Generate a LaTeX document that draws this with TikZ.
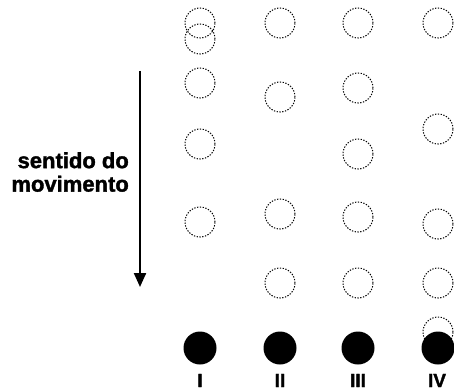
\documentclass[tikz,border=0pt]{standalone}
\usepackage{fontspec}
\setmainfont{Liberation Sans}
\newfontfamily\heavysans[FakeBold=1.6]{Liberation Sans Bold}
\usetikzlibrary{arrows.meta}
\begin{document}
\begin{tikzpicture}[x=1pt,y=-1pt,
  ghost/.style={circle,draw=black,line width=1pt,dash pattern=on 1.3pt off 1.5pt,minimum size=30pt,inner sep=0pt},
  ball/.style={circle,fill=black,minimum size=33pt,inner sep=0pt},
  numlabel/.style={font=\heavysans\fontsize{19}{19}\selectfont,inner sep=0pt,anchor=base},
  movetext/.style={font=\heavysans\fontsize{22}{23.5}\selectfont,align=right,inner sep=0pt}]
\useasboundingbox (0,0) rectangle (454,390);
% column I
\node[ghost] (a1) at (200,23) {};
\node[ghost] (a2) at (200,39) {};
\node[ghost] (a3) at (200,83) {};
\node[ghost] (a4) at (200,144) {};
\node[ghost] (a5) at (200,222) {};
% column II
\node[ghost] (b1) at (280,23) {};
\node[ghost] (b2) at (280,97) {};
\node[ghost] (b3) at (280,214) {};
\node[ghost] (b4) at (280,283) {};
% column III
\node[ghost] (c1) at (358,23) {};
\node[ghost] (c2) at (358,88) {};
\node[ghost] (c3) at (358,154) {};
\node[ghost] (c4) at (358,217) {};
\node[ghost] (c5) at (358,283) {};
% column IV
\node[ghost] (d1) at (438,23) {};
\node[ghost] (d2) at (438,129) {};
\node[ghost] (d3) at (438,224) {};
\node[ghost] (d4) at (438,283) {};
\node[ghost] (d5) at (438,332) {};
% balls
\node[ball] (A) at (200,348) {};
\node[ball] (B) at (280,348) {};
\node[ball] (C) at (358,348) {};
\node[ball] (D) at (438,348) {};
% labels
\node[numlabel] (lA) at (200,387) {I};
\node[numlabel] (lB) at (280,387) {II};
\node[numlabel] (lC) at (358,387) {III};
\node[numlabel] (lD) at (437,387) {IV};
% arrow
\coordinate (arrtop) at (140,71);
\coordinate (arrbot) at (140,287);
\draw[line width=2.2pt,-{Triangle[length=14pt,width=12pt]}] (arrtop) -- (arrbot);
\node[movetext,anchor=east] (txt) at (129,172) {sentido do\\movimento};
\end{tikzpicture}
\end{document}
